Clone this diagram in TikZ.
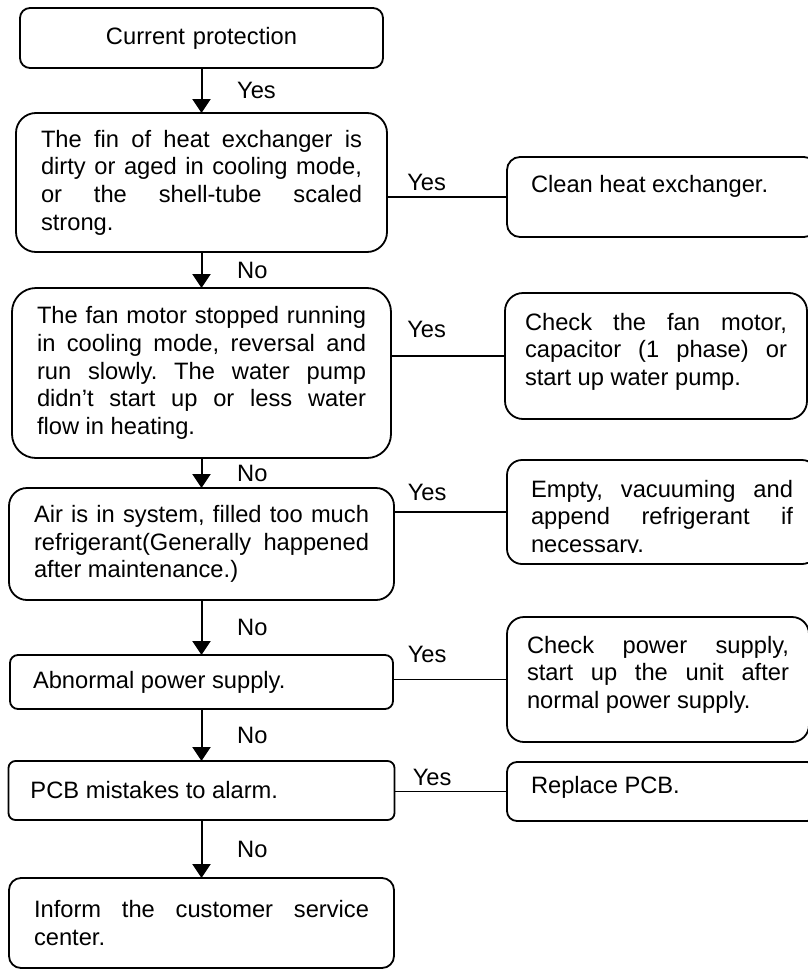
\documentclass[tikz,border=0pt]{standalone}
\usepackage{fontspec}
\setmainfont{Liberation Sans}
\usetikzlibrary{positioning, arrows.meta, calc}
\frenchspacing

\begin{document}
\begin{tikzpicture}[
	font=\fontsize{11.85pt}{13.8pt}\selectfont,
	checkbox/.style={rectangle, rounded corners=5pt, draw=black, line width=0.9pt,
	                 align=justify, inner xsep=12.5pt, inner ysep=0pt, outer sep=0pt},
	fixbox/.style={rectangle, rounded corners=7pt, draw=black, line width=0.9pt,
	               align=justify, text width=131pt, inner xsep=12pt, inner ysep=0pt, outer sep=0pt},
	flow/.style={-{Triangle[length=7pt, width=9pt]}, line width=1pt},
	link/.style={line width=0.75pt},
	downlabel/.style={right=14pt, midway},
	sidelabel/.style={pos=0, anchor=base west, inner sep=0pt},
	]

\useasboundingbox (0,0) rectangle (404pt,-484.5pt);
\clip (0,0) rectangle (404pt,-484.5pt);

% Columna de comprobaciones
\node[checkbox, align=center, text width=156.5pt, minimum height=30pt] (a1) at (100.75pt,-19pt) {Current protection};
\node[checkbox, text width=160.5pt, minimum height=69.5pt, rounded corners=10pt, below=22.5pt of a1] (a2) {The fin of heat exchanger is\linebreak dirty or aged in cooling mode,\linebreak or the shell-tube scaled\linebreak strong.};
\node[checkbox, text width=164.5pt, minimum height=85pt, rounded corners=12pt, below=18pt of a2] (a3) {The fan motor stopped running\linebreak in cooling mode, reversal and\linebreak run slowly. The water pump\linebreak didn’t start up or less water\linebreak flow in heating.};
\node[checkbox, text width=167.5pt, minimum height=56pt, rounded corners=9pt, below=15pt of a3] (a4) {Air is in system, filled too much\linebreak refrigerant(Generally happened\linebreak after maintenance.)};
\node[checkbox, inner xsep=11.5pt, text width=168.5pt, minimum height=27pt, rounded corners=4pt, below=27.5pt of a4] (a5) {Abnormal power supply.};
\node[checkbox, inner xsep=11pt, text width=171pt, minimum height=29.5pt, rounded corners=3.5pt, below=26pt of a5] (a6) {PCB mistakes to alarm.};
\node[checkbox, text width=167.5pt, minimum height=45pt, rounded corners=6pt, below=29pt of a6] (a7) {Inform the customer service\linebreak center.};

\draw[flow] (a1) -- node[downlabel] {Yes} (a2);
\draw[flow] (a2) -- node[downlabel] {No} (a3);
\draw[flow] (a3) -- node[downlabel] {No} (a4);
\draw[flow] (a4) -- node[downlabel] {No} (a5);
\draw[flow] (a5) -- node[downlabel] {No} (a6);
\draw[flow] (a6) -- node[downlabel] {No} (a7);

% Acciones correctivas
\node[fixbox, rounded corners=6.5pt, text height=17.5pt, text depth=22.5pt, right=60pt of a2, yshift=-7.25pt] (b1) {Clean heat exchanger.};
\node[fixbox, inner xsep=10pt, rounded corners=9pt, text height=18.5pt, text depth=44.5pt, right=57pt of a3, yshift=8.5pt] (b2) {Check the fan motor,\linebreak capacitor (1 phase) or\linebreak start up water pump.};
\node[fixbox, rounded corners=7.5pt, text height=18.5pt, text depth=33.5pt, right=56.5pt of a4, yshift=16pt] (b3) {Empty, vacuuming and\linebreak append refrigerant if\linebreak necessary.};
\node[fixbox, inner xsep=10pt, rounded corners=8.5pt, text height=18pt, text depth=44.5pt, right=57pt of a5, yshift=1.25pt] (b4) {Check power supply,\linebreak start up the unit after\linebreak normal power supply.};
\node[fixbox, rounded corners=5pt, text height=15.5pt, text depth=14pt, right=56.25pt of a6, yshift=-0.5pt] (b5) {Replace PCB.};

% texto recortado en el cuadro b3
\fill[white] ($(b3.south west)+(9pt,1pt)$) rectangle ($(b3.south east)+(-2pt,5.5pt)$);

\draw[link] (a2.east |- b1.west) -- node[sidelabel, xshift=9.75pt, yshift=3.5pt] {Yes} (b1.west);
\draw[link] (a3.east |- b2.west) -- node[sidelabel, xshift=7.75pt, yshift=9.5pt] {Yes} (b2.west);
\draw[link] (a4.east |- b3.west) -- node[sidelabel, xshift=6.5pt, yshift=6pt] {Yes} (b3.west);
\draw[link] (a5.east |- b4.west) -- node[sidelabel, xshift=7pt, yshift=8.75pt] {Yes} (b4.west);
\draw[link] (a6.east |- b5.west) -- node[sidelabel, xshift=8.75pt, yshift=3.25pt] {Yes} (b5.west);

\end{tikzpicture}
\end{document}
